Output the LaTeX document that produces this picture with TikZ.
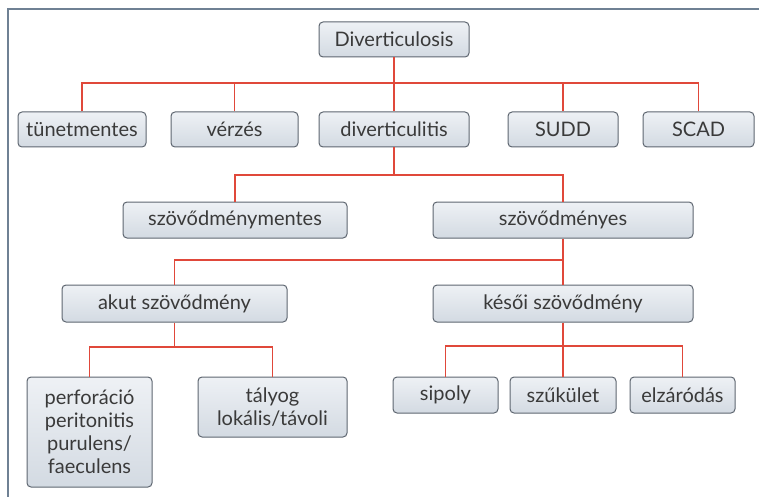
\documentclass[tikz,border=0pt]{standalone}
\usepackage{fontspec}
\setmainfont{Lato}
\definecolor{boxline}{HTML}{5E6670}
\definecolor{boxtop}{HTML}{EEF1F5}
\definecolor{boxbot}{HTML}{D3DAE2}
\definecolor{conred}{HTML}{E0483A}
\definecolor{framec}{HTML}{6F8194}
\definecolor{txt}{HTML}{3A3A3A}
\tikzset{
  box/.style={draw=boxline, line width=1pt, rounded corners=4pt, top color=boxtop, bottom color=boxbot,
    inner sep=0pt, minimum height=35pt, align=center, text=txt, font=\fontsize{20}{23}\selectfont},
  con/.style={draw=conred, line width=1.5pt},
  frame/.style={draw=framec, line width=2pt}
}
\begin{document}
\begin{tikzpicture}[x=1pt,y=-1pt]
\useasboundingbox (0,0) rectangle (759,497);
\draw[frame] (8,497) -- (8,9) -- (759,9);
\coordinate (b1) at (0,83);
\coordinate (b2) at (0,175);
\coordinate (b3) at (0,260);
\coordinate (b4) at (0,347);
\coordinate (b5) at (0,346);
\node[box, minimum width=150pt] (d0) at (394,39.5) {Diverticulosis};
\node[box, minimum width=128pt] (t) at (82,129.5) {tünetmentes};
\node[box, minimum width=127pt] (v) at (234.5,129.5) {vérzés};
\node[box, minimum width=150pt] (dl) at (394,129.5) {diverticulitis};
\node[box, minimum width=110pt] (sudd) at (563,129.5) {SUDD};
\node[box, minimum width=111pt] (scad) at (698.5,129.5) {SCAD};
\node[box, minimum width=224pt, minimum height=36pt] (sm) at (235,220) {szövődménymentes};
\node[box, minimum width=260pt, minimum height=36pt] (sz) at (563,220) {szövődményes};
\node[box, minimum width=225pt, minimum height=37pt] (ak) at (174.5,303.5) {akut szövődmény};
\node[box, minimum width=260pt, minimum height=37pt] (ke) at (563,303.5) {késői szövődmény};
\node[box, minimum width=125pt, minimum height=110pt] (pf) at (89.5,432) {perforáció\\peritonitis\\purulens/\\faeculens};
\node[box, minimum width=149pt, minimum height=60pt] (ta) at (272.5,407) {tályog\\lokális/távoli};
\node[box, minimum width=105pt, minimum height=36pt] (si) at (445.5,395) {sipoly};
\node[box, minimum width=106pt, minimum height=36pt] (szk) at (563,395) {szűkület};
\node[box, minimum width=105pt, minimum height=36pt] (el) at (682.5,395) {elzáródás};
% level 1
\draw[con] (d0.south) -- (d0.south |- b1);
\draw[con] (t.north) -- (t.north |- b1) -- (scad.north |- b1) -- (scad.north);
\draw[con] (v.north) -- (v.north |- b1);
\draw[con] (dl.north) -- (dl.north |- b1);
\draw[con] (sudd.north) -- (sudd.north |- b1);
% level 2
\draw[con] (dl.south) -- (dl.south |- b2);
\draw[con] (sm.north) -- (sm.north |- b2) -- (sz.north |- b2) -- (sz.north);
% level 3
\draw[con] (sz.south) -- (ke.north);
\draw[con] (ak.north) -- (ak.north |- b3) -- (sz.south |- b3);
% level 4 left
\draw[con] (ak.south) -- (ak.south |- b4);
\draw[con] (pf.north) -- (pf.north |- b4) -- (ta.north |- b4) -- (ta.north);
% level 4 right
\draw[con] (ke.south) -- (szk.north);
\draw[con] (si.north) -- (si.north |- b5) -- (el.north |- b5) -- (el.north);
\end{tikzpicture}
\end{document}
